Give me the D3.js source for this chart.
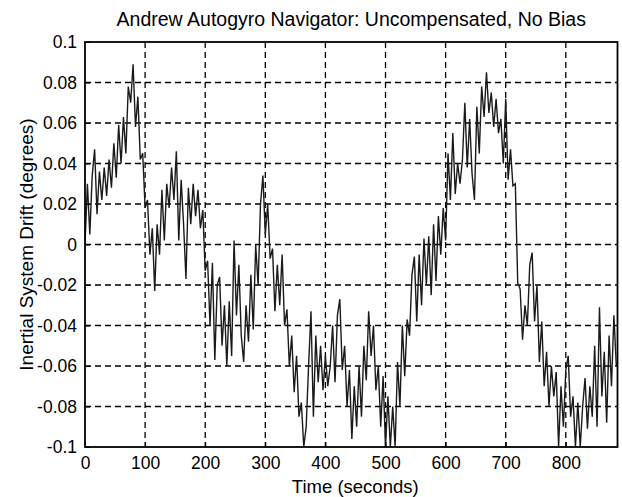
<!DOCTYPE html>
<html>
<head>
<meta charset="utf-8">
<script src="https://cdn.jsdelivr.net/npm/d3@7"></script>
<style>
  body { margin: 0; background: #fff; }
  text { font-family: "Liberation Sans", Arial, sans-serif; fill: #000; }
</style>
</head>
<body>
<div class="driftChart"></div>
<script>
// Chart data (drift in millidegrees, one sample every 4 s)
const title = "Andrew Autogyro Navigator: Uncompensated, No Bias";
const xLabel = "Time (seconds)";
const yLabel = "Inertial System Drift (degrees)";
const xTicks = [0, 100, 200, 300, 400, 500, 600, 700, 800];
const yTicks = [-0.1, -0.08, -0.06, -0.04, -0.02, 0, 0.02, 0.04, 0.06, 0.08, 0.1];
const yTickLabels = ["-0.1", "-0.08", "-0.06", "-0.04", "-0.02", "0", "0.02", "0.04", "0.06", "0.08", "0.1"];
const sampleStep = 4; // seconds between samples
const driftMilli = [
  0, 30, 5, 34, 47, 15, 36, 22, 38, 24,
  42, 28, 50, 33, 59, 40, 63, 45, 78, 70,
  89, 58, 73, 42, 45, 18, 22, -5, 8, -23,
  10, -5, 27, 2, 30, 18, 38, 22, 46, 2,
  32, 10, -17, 28, 10, 30, 14, 27, 8, 17,
  -13, -8, -40, -9, -57, -20, -16, -50, -30, -60,
  -28, -55, 2, -35, -10, -45, -58, -30, -48, -15,
  -42, 0, -20, 20, 34, 5, 20, -7, -2, -33,
  -10, -30, -5, -40, -32, -60, -45, -73, -55, -85,
  -78, -100, -90, -60, -33, -85, -45, -68, -50, -72,
  -55, -70, -60, -40, -68, -35, -27, -62, -50, -80,
  -62, -96, -70, -90, -60, -85, -50, -67, -33, -55,
  -40, -72, -60, -90, -65, -100, -75, -100, -80, -100,
  -58, -80, -40, -65, -37, -45, -15, -6, -38, -5,
  -30, 3, -20, 4, -25, 10, -18, 14, -5, 18,
  2, 45, 22, 55, 25, 40, 30, 42, 70, 38,
  62, 35, 22, 68, 45, 78, 63, 85, 65, 75,
  58, 72, 55, 62, 40, 72, 32, 47, 29, 30,
  -19, -22, -47, -30, -40, -10, -4, -38, -20, -58,
  -38, -70, -53, -80, -60, -75, -63, -100, -70, -90,
  -62, -55, -85, -75, -100, -78, -100, -80, -66, -91,
  -70, -85, -50, -90, -31, -75, -53, -88, -45, -70,
  -35, -60
];
const xMax = 886;

const width = 622, height = 497;
const margin = { top: 42, right: 4.5, bottom: 50, left: 85 };

const svg = d3.select(".driftChart")
  .append("svg")
  .attr("width", width)
  .attr("height", height);

const x = d3.scaleLinear().domain([0, xMax]).range([margin.left, width - margin.right]);
const y = d3.scaleLinear().domain([-0.1, 0.1]).range([height - margin.bottom, margin.top]);

const data = driftMilli.map((v, i) => ({ t: i * sampleStep, v: v / 1000 }));

// clip so the trace stays inside the axes box
svg.append("clipPath").attr("id", "plotClip")
  .append("rect")
  .attr("x", x(0)).attr("y", y(0.1))
  .attr("width", x(xMax) - x(0)).attr("height", y(-0.1) - y(0.1));

// dashed grid
svg.append("g")
  .selectAll("line")
  .data(xTicks.slice(1))
  .enter().append("line")
  .attr("x1", d => x(d)).attr("x2", d => x(d))
  .attr("y1", y(0.1)).attr("y2", y(-0.1))
  .attr("stroke", "#000").attr("stroke-width", 1.3)
  .attr("stroke-dasharray", "6,4");

svg.append("g")
  .selectAll("line")
  .data(yTicks.slice(1, -1))
  .enter().append("line")
  .attr("x1", x(0)).attr("x2", x(xMax))
  .attr("y1", d => y(d)).attr("y2", d => y(d))
  .attr("stroke", "#000").attr("stroke-width", 1.3)
  .attr("stroke-dasharray", "6,4");

// drift trace
const line = d3.line().x(d => x(d.t)).y(d => y(d.v));
svg.append("path")
  .datum(data)
  .attr("clip-path", "url(#plotClip)")
  .attr("fill", "none")
  .attr("stroke", "#1a1a1a")
  .attr("stroke-width", 1.4)
  .attr("d", line);

// axes box
svg.append("rect")
  .attr("x", x(0)).attr("y", y(0.1))
  .attr("width", x(xMax) - x(0)).attr("height", y(-0.1) - y(0.1))
  .attr("fill", "none").attr("stroke", "#000").attr("stroke-width", 1.8);

// axes with inward ticks
const xAxis = svg.append("g")
  .attr("transform", `translate(0,${y(-0.1)})`)
  .call(d3.axisBottom(x).tickValues(xTicks).tickSizeInner(-5).tickSizeOuter(0).tickPadding(10));
xAxis.select(".domain").remove();
xAxis.selectAll("text").style("font-size", "17.5px");

const yAxis = svg.append("g")
  .attr("transform", `translate(${x(0)},0)`)
  .call(d3.axisLeft(y).tickValues(yTicks).tickFormat((d, i) => yTickLabels[i])
    .tickSizeInner(-5).tickSizeOuter(0).tickPadding(8));
yAxis.select(".domain").remove();
yAxis.selectAll("text").style("font-size", "17.5px");

// title and labels
svg.append("text")
  .attr("x", (x(0) + x(xMax)) / 2)
  .attr("y", 26)
  .attr("text-anchor", "middle")
  .style("font-size", "19.5px")
  .text(title);

svg.append("text")
  .attr("x", (x(0) + x(xMax)) / 2 + 4)
  .attr("y", 493)
  .attr("text-anchor", "middle")
  .style("font-size", "18.5px")
  .text(xLabel);

svg.append("text")
  .attr("transform", "rotate(-90)")
  .attr("x", -(y(0.1) + y(-0.1)) / 2)
  .attr("y", 33)
  .attr("text-anchor", "middle")
  .style("font-size", "19px")
  .text(yLabel);
</script>
</body>
</html>
